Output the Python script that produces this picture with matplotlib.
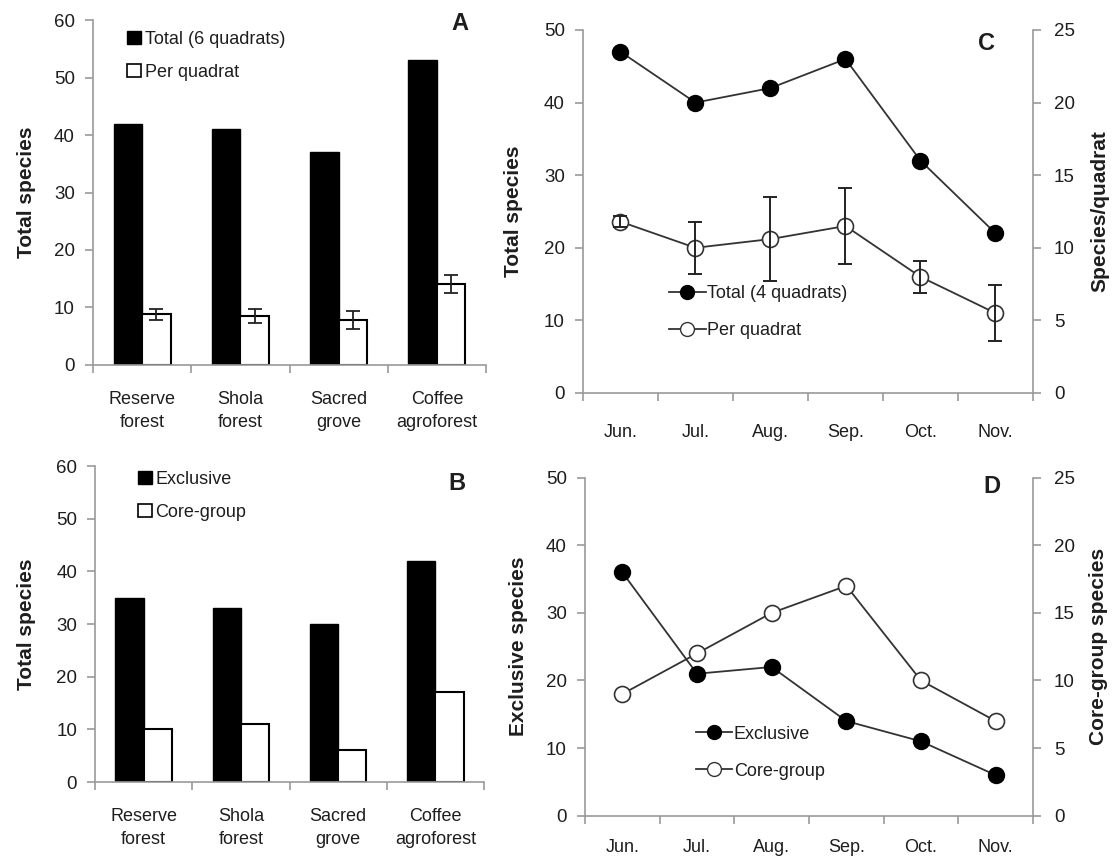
import numpy as np
import matplotlib
matplotlib.use('Agg')
import matplotlib.pyplot as plt
from matplotlib.patches import Patch
from matplotlib.lines import Line2D
from matplotlib.legend_handler import HandlerLine2D

plt.rcParams['font.family'] = ['Liberation Sans', 'DejaVu Sans']

# datos
sitios = ['Reserve\nforest', 'Shola\nforest', 'Sacred\ngrove', 'Coffee\nagroforest']
total_6q = [42, 41, 37, 53]
por_cuadrante = [8.8, 8.5, 7.8, 14.1]
err_cuadrante = [1.0, 1.2, 1.6, 1.5]

exclusivas_sitio = [35, 33, 30, 42]
nucleo_sitio = [10, 11, 6, 17]

meses = ['Jun.', 'Jul.', 'Aug.', 'Sep.', 'Oct.', 'Nov.']
total_4q = [47, 40, 42, 46, 32, 22]
por_cuadrante_mes = [11.8, 10.0, 10.6, 11.5, 8.0, 5.5]
err_cuadrante_mes = [0.4, 1.8, 2.9, 2.6, 1.1, 1.95]

exclusivas_mes = [36, 21, 22, 14, 11, 6]
nucleo_mes = [9, 12, 15, 17, 10, 7]

gris = '#9a9a9a'
texto = '#1e1e1e'
fs_num = 13.5
fs_cat = 13
fs_lab = 15

fig = plt.figure(figsize=(11.17, 8.59), dpi=100)


# marcador a la derecha de la linea en la leyenda
class HandlerDerecha(HandlerLine2D):
    def get_xdata(self, legend, xdescent, ydescent, width, height, fontsize):
        xdata = [-xdescent, -xdescent + width]
        return xdata, [-xdescent + 0.75 * width]


def estilo(ax, pad_x):
    for s in ['top', 'right']:
        ax.spines[s].set_visible(False)
    for s in ['left', 'bottom']:
        ax.spines[s].set_color(gris)
        ax.spines[s].set_linewidth(1.2)
    ax.tick_params(axis='y', colors=gris, labelcolor=texto, labelsize=fs_num,
                   length=6, width=1.2, direction='out', pad=7)
    ax.tick_params(axis='x', which='major', colors=gris, length=6, width=1.2,
                   direction='out', labelbottom=False)
    ax.tick_params(axis='x', which='minor', length=0, labelsize=fs_cat,
                   labelcolor=texto, pad=pad_x)


def panel_barras(ax, negro, blanco, err, letra, pos_letra, x_lab, etiquetas, leg_pos):
    x = np.arange(len(sitios))
    ax.bar(x - 0.145, negro, width=0.29, color='black', edgecolor='black', zorder=2)
    ax.bar(x + 0.145, blanco, width=0.29, color='white', edgecolor='black',
           linewidth=1.5, zorder=2)
    if err is not None:
        ax.errorbar(x + 0.145, blanco, yerr=err, fmt='none', ecolor='#222',
                    elinewidth=1.3, capsize=5, capthick=1.3, zorder=3)
    ax.set_xlim(-0.5, len(sitios) - 0.5)
    ax.set_ylim(0, 60)
    ax.set_yticks(np.arange(0, 61, 10))
    ax.set_xticks(np.arange(-0.5, len(sitios), 1.0))
    ax.set_xticks(x, minor=True)
    ax.set_xticklabels(sitios, minor=True, linespacing=1.4)
    estilo(ax, 19)
    ax.set_ylabel('Total species', fontsize=fs_lab, fontweight='bold', color=texto)
    ax.yaxis.set_label_coords(x_lab, 0.5)
    ax.text(pos_letra[0], pos_letra[1], letra, transform=ax.transAxes,
            fontsize=17, fontweight='bold', ha='center', va='center', color=texto)
    handles = [Patch(facecolor='black', edgecolor='black'),
               Patch(facecolor='white', edgecolor='black', linewidth=1.2)]
    ax.legend(handles, etiquetas, loc='upper left', bbox_to_anchor=leg_pos,
              frameon=False, fontsize=fs_cat, handlelength=0.75, handleheight=0.75,
              handletextpad=0.2, labelspacing=0.9, labelcolor=texto)


def panel_lineas(ax, izq, der, err, letra, pos_letra, etiq_izq, etiq_der, x_labs,
                 etiquetas, leg_pos, pad_x):
    x = np.arange(len(meses))
    ax2 = ax.twinx()
    ax.plot(x, izq, color='#333', linewidth=1.3, marker='o', markersize=11.5,
            markerfacecolor='black', markeredgecolor='black', zorder=3)
    ax2.plot(x, der, color='#333', linewidth=1.3, marker='o', markersize=11.5,
             markerfacecolor='white', markeredgecolor='#333', markeredgewidth=1.2,
             zorder=3)
    if err is not None:
        ax2.errorbar(x, der, yerr=err, fmt='none', ecolor='#222', elinewidth=1.4,
                     capsize=5, capthick=1.4, zorder=4)
    ax.set_xlim(-0.5, len(meses) - 0.5)
    ax.set_ylim(0, 50)
    ax2.set_ylim(0, 25)
    ax.set_yticks(np.arange(0, 51, 10))
    ax2.set_yticks(np.arange(0, 26, 5))
    ax.set_xticks(np.arange(-0.5, len(meses), 1.0))
    ax.set_xticks(x, minor=True)
    ax.set_xticklabels(meses, minor=True)
    estilo(ax, pad_x)
    for s in ['top', 'left', 'bottom']:
        ax2.spines[s].set_visible(False)
    ax2.spines['right'].set_color(gris)
    ax2.spines['right'].set_linewidth(1.2)
    ax2.tick_params(axis='y', colors=gris, labelcolor=texto, labelsize=fs_num,
                    length=6, width=1.2, direction='out', pad=9)
    ax.set_ylabel(etiq_izq, fontsize=fs_lab, fontweight='bold', color=texto)
    ax.yaxis.set_label_coords(x_labs[0], 0.5)
    ax2.set_ylabel(etiq_der, fontsize=fs_lab, fontweight='bold', color=texto)
    ax2.yaxis.set_label_coords(x_labs[1], 0.5)
    ax.text(pos_letra[0], pos_letra[1], letra, transform=ax.transAxes,
            fontsize=17, fontweight='bold', ha='center', va='center', color=texto)
    handles = [Line2D([], [], color='#333', linewidth=1.3, marker='o', markersize=10,
                      markerfacecolor='black', markeredgecolor='black'),
               Line2D([], [], color='#333', linewidth=1.3, marker='o', markersize=10,
                      markerfacecolor='white', markeredgecolor='#333')]
    ax2.legend(handles, etiquetas, loc='upper left', bbox_to_anchor=leg_pos,
               frameon=False, fontsize=fs_cat, handlelength=2.0, handletextpad=0.1,
               labelspacing=1.1, labelcolor=texto,
               handler_map={Line2D: HandlerDerecha()})


axA = fig.add_axes([0.0833, 0.5751, 0.3518, 0.4016])
panel_barras(axA, total_6q, por_cuadrante, err_cuadrante, 'A', (0.934, 0.99), -0.145,
             ['Total (6 quadrats)', 'Per quadrat'], (0.046, 1.016))

axB = fig.add_axes([0.0851, 0.0896, 0.3483, 0.3679])
panel_barras(axB, exclusivas_sitio, nucleo_sitio, None, 'B', (0.93, 0.946), -0.152,
             ['Exclusive', 'Core-group'], (0.069, 1.036))

axC = fig.add_axes([0.5219, 0.5425, 0.4029, 0.4226])
panel_lineas(axC, total_4q, por_cuadrante_mes, err_cuadrante_mes, 'C', (0.896, 0.964),
             'Total species', 'Species/quadrat', (-0.133, 1.127),
             ['Total (4 quadrats)', 'Per quadrat'], (0.156, 0.342), 22)

axD = fig.add_axes([0.5237, 0.0504, 0.4011, 0.3935])
panel_lineas(axD, exclusivas_mes, nucleo_mes, None, 'D', (0.908, 0.973),
             'Exclusive species', 'Core-group species', (-0.127, 1.125),
             ['Exclusive', 'Core-group'], (0.211, 0.314), 17)

fig.savefig('out.png', dpi=100)
